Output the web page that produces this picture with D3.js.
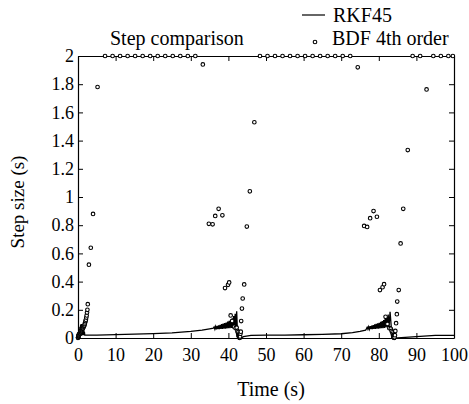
<!DOCTYPE html>
<html><head><meta charset="utf-8">
<script src="https://cdn.jsdelivr.net/npm/d3@7/dist/d3.min.js"></script>
<style>
html,body{margin:0;padding:0;background:#fff;}
svg{display:block;font-family:"Liberation Serif","Times New Roman",serif;}
</style></head>
<body><svg id="chart" width="469" height="404"></svg>
<script>
// ---- data ----
const xTicks = [0,10,20,30,40,50,60,70,80,90,100];
const xTickLabels = ["0","10","20","30","40","50","60","70","80","90","100"];
const yTicks = [0,0.2,0.4,0.6,0.8,1,1.2,1.4,1.6,1.8,2];
const yTickLabels = ["0","0.2","0.4","0.6","0.8","1","1.2","1.4","1.6","1.8","2"];

// RKF45 step sizes (time, step)
const rkfTime = [0,0.1,0.2,0.3,0.4,0.5,0.6,0.7,0.8,0.9,1.0,1.1,1.2,1.3,1.4,1.5,1.6,1.7,1.8,2.0,2.5,5,10,15,20,25,30,33,35,36,
  36.2,36.4,36.6,36.8,37.0,37.2,37.4,37.6,37.8,38.0,38.2,38.4,38.6,38.8,39.0,39.2,39.4,39.6,39.8,40.0,40.2,40.4,40.6,40.8,41.0,41.2,41.4,41.6,41.8,42.0,42.2,42.4,42.8,43.2,43.5,44,46,
  50,55,60,65,70,73,75,76.5,
  76.7,76.9,77.1,77.3,77.5,77.7,77.9,78.1,78.3,78.5,78.7,78.9,79.1,79.3,79.5,79.7,79.9,80.1,80.3,80.5,80.7,80.9,81.1,81.3,81.5,81.7,81.9,82.1,82.3,82.5,82.7,83.0,83.4,83.8,84.2,85,90,95,100];
const rkfStep = [0.002,0.04,0.005,0.06,0.01,0.08,0.012,0.095,0.015,0.1,0.018,0.09,0.02,0.08,0.02,0.06,0.02,0.045,0.02,0.02,0.02,0.021,0.024,0.027,0.031,0.037,0.047,0.056,0.065,0.07,
  0.078,0.062,0.082,0.062,0.086,0.063,0.09,0.063,0.094,0.064,0.098,0.065,0.102,0.066,0.106,0.067,0.11,0.068,0.116,0.069,0.122,0.07,0.13,0.072,0.14,0.074,0.155,0.076,0.172,0.078,0.19,0.05,0.02,0.003,0.001,0.01,0.018,0.02,
  0.021,0.023,0.026,0.03,0.038,0.047,0.056,0.065,
  0.076,0.062,0.08,0.062,0.084,0.063,0.088,0.063,0.092,0.064,0.096,0.065,0.1,0.066,0.104,0.067,0.108,0.068,0.114,0.069,0.12,0.07,0.128,0.072,0.138,0.074,0.15,0.076,0.166,0.078,0.185,0.05,0.02,0.003,0.001,0.01,0.018,0.019,0.02,0.02];

// BDF 4th order step sizes (time, step)
const bdfTime = [0,0.02,0.05,0.08,0.12,0.16,0.2,0.3,0.4,0.5,0.6,0.7,0.8,0.9,1.0,1.1,1.2,1.3,1.4,1.5,1.6,1.7,1.8,1.9,2.0,2.1,2.2,2.3,2.4,2.5,2.6,2.9,3.4,4.0,5.2,
  7.2,9.2,11.2,13.2,15.2,17.2,19.2,21.2,23.2,25.2,27.2,29.2,31.2,33.2,
  34.8,35.8,36.5,37.4,38.4,39.1,39.9,40.2,40.6,41.0,41.5,41.9,42.2,42.4,42.5,42.6,42.7,42.75,42.8,42.85,42.9,42.95,43.0,43.05,43.1,43.2,43.3,43.4,43.6,43.8,44.2,44.9,45.7,46.9,
  48.4,50.4,52.4,54.4,56.4,58.4,60.4,62.4,64.4,66.4,68.4,70.4,72.4,74.4,
  76.1,76.9,77.7,78.6,79.5,80.3,81.0,81.4,81.8,82.3,82.8,83.2,83.4,83.6,83.7,83.8,83.85,83.9,83.95,84.0,84.05,84.1,84.2,84.3,84.4,84.6,84.8,84.9,85.3,85.8,86.5,87.7,
  89.0,91.0,92.7,94.5,96.5,98.5,99.7];
const bdfStep = [0.001,0.003,0.006,0.01,0.014,0.018,0.022,0.026,0.03,0.034,0.038,0.042,0.046,0.05,0.055,0.06,0.065,0.07,0.075,0.08,0.085,0.09,0.1,0.11,0.12,0.13,0.145,0.16,0.18,0.2,0.24,0.52,0.64,0.88,1.78,
  2,2,2,2,2,2,2,2,2,2,2,2,2,1.94,
  0.81,0.806,0.866,0.916,0.87,0.354,0.377,0.394,0.16,0.12,0.08,0.07,0.073,0.05,0.04,0.03,0.02,0.015,0.01,0.007,0.005,0.003,0.001,0.003,0.01,0.03,0.045,0.12,0.209,0.28,0.38,0.79,1.04,1.53,
  2,2,2,2,2,2,2,2,2,2,2,2,2,1.92,
  0.795,0.788,0.85,0.90,0.86,0.34,0.36,0.382,0.15,0.1,0.07,0.065,0.05,0.04,0.03,0.02,0.015,0.01,0.007,0.004,0.002,0.001,0.005,0.02,0.05,0.105,0.169,0.258,0.34,0.671,0.916,1.333,
  2,2,1.763,2,2,2,2];

// ---- drawing ----
const svg = d3.select("#chart");
const W = 469, H = 404;
const x = d3.scaleLinear().domain([0,100]).range([78,454]);
const y = d3.scaleLinear().domain([0,2]).range([338,56]);

svg.append("rect").attr("width",W).attr("height",H).attr("fill","#fff");

// axes
const gB = svg.append("g").attr("transform",`translate(0,${y(0)})`)
  .call(d3.axisBottom(x).tickValues(xTicks).tickFormat((d,i)=>xTickLabels[i]).tickSizeInner(-5).tickSizeOuter(0).tickPadding(10));
const gT = svg.append("g").attr("transform",`translate(0,${y(2)})`)
  .call(d3.axisTop(x).tickValues(xTicks).tickFormat("").tickSizeInner(-5).tickSizeOuter(0));
const gL = svg.append("g").attr("transform",`translate(${x(0)},0)`)
  .call(d3.axisLeft(y).tickValues(yTicks).tickFormat((d,i)=>yTickLabels[i]).tickSizeInner(-5).tickSizeOuter(0).tickPadding(4));
const gR = svg.append("g").attr("transform",`translate(${x(100)},0)`)
  .call(d3.axisRight(y).tickValues(yTicks).tickFormat("").tickSizeInner(-5).tickSizeOuter(0));
[gB,gT,gL,gR].forEach(g=>{
  g.select(".domain").attr("stroke","#000").attr("stroke-width",1.2);
  g.selectAll(".tick line").attr("stroke","#000");
  g.selectAll("text").attr("fill","#000").attr("font-size",18).attr("font-family","Liberation Serif");
});

// RKF45 line
const rkf = rkfTime.map((t,i)=>[t,rkfStep[i]]);
svg.append("path").datum(rkf)
  .attr("d", d3.line().x(d=>x(d[0])).y(d=>y(d[1])))
  .attr("fill","none").attr("stroke","#000").attr("stroke-width",1.3);

// BDF markers
const bdf = bdfTime.map((t,i)=>[t,bdfStep[i]]);
svg.append("g").selectAll("circle").data(bdf).join("circle")
  .attr("cx",d=>x(d[0])).attr("cy",d=>y(d[1])).attr("r",1.8)
  .attr("fill","#fff").attr("stroke","#000").attr("stroke-width",1.1);

// title
svg.append("text").attr("x",110).attr("y",44.5).attr("font-size",20).text("Step comparison");

// legend
svg.append("line").attr("x1",302).attr("x2",325).attr("y1",15).attr("y2",15).attr("stroke","#000").attr("stroke-width",1.2);
svg.append("text").attr("x",333).attr("y",21.5).attr("font-size",20).text("RKF45");
svg.append("circle").attr("cx",315).attr("cy",42).attr("r",1.8).attr("fill","#fff").attr("stroke","#000").attr("stroke-width",1.1);
svg.append("text").attr("x",332).attr("y",44.5).attr("font-size",20).text("BDF 4th order");

// axis labels
svg.append("text").attr("x",271).attr("y",396).attr("text-anchor","middle").attr("font-size",20).text("Time (s)");
svg.append("text").attr("transform","translate(24,202) rotate(-90)").attr("text-anchor","middle").attr("font-size",19).text("Step size (s)");
</script></body></html>
